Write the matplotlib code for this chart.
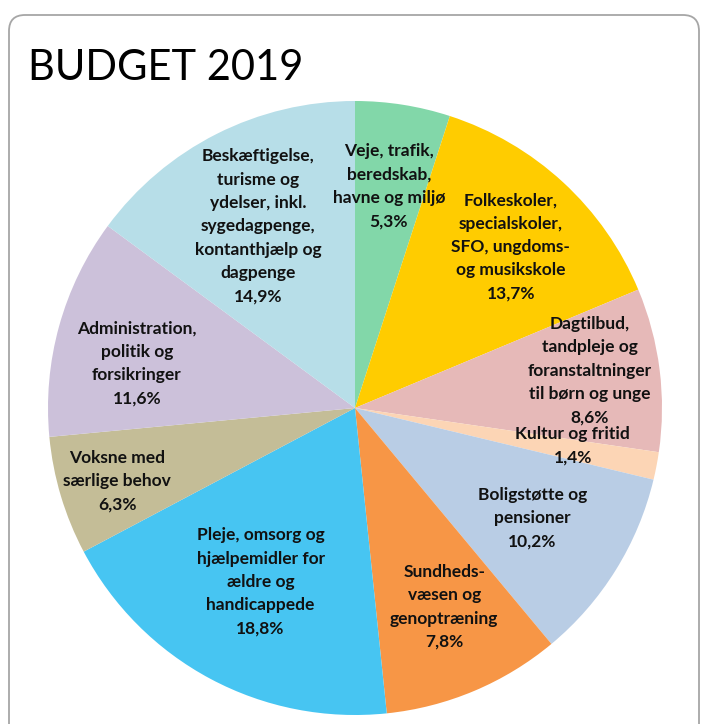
import numpy as np
import matplotlib
matplotlib.use("Agg")
import matplotlib.pyplot as plt
from matplotlib.patches import FancyBboxPatch

# data
categories = [
    "Veje, trafik,\nberedskab,\nhavne og miljø",
    "Folkeskoler,\nspecialskoler,\nSFO, ungdoms-\nog musikskole",
    "Dagtilbud,\ntandpleje og\nforanstaltninger\ntil børn og unge",
    "Kultur og fritid",
    "Boligstøtte og\npensioner",
    "Sundheds-\nvæsen og\ngenoptræning",
    "Pleje, omsorg og\nhjælpemidler for\nældre og\nhandicappede",
    "Voksne med\nsærlige behov",
    "Administration,\npolitik og\nforsikringer",
    "Beskæftigelse,\nturisme og\nydelser, inkl.\nsygedagpenge,\nkontanthjælp og\ndagpenge",
]
# slice sizes as drawn in the picture (percent of the circle)
slice_sizes = [5.0, 13.7, 8.6, 1.45, 10.2, 9.4, 18.9, 6.25, 11.6, 14.9]
# percentages as printed on the labels
pct_labels = ["5,3%", "13,7%", "8,6%", "1,4%", "10,2%", "7,8%",
              "18,8%", "6,3%", "11,6%", "14,9%"]

colors = ["#82D7A9", "#FFCC00", "#E6B9B8", "#FCD5B5", "#B9CDE5",
          "#F79646", "#47C5F2", "#C4BD97", "#CCC1DA", "#B7DEE8"]

# label placement (fraction of radius, angular nudge clockwise in degrees)
label_r = [0.73, 0.73, 0.775, 0.72, 0.68, 0.71, 0.645, 0.81, 0.725, 0.67]
label_nudge = [-0.3, 1.4, -1.8, -1.0, 0.0, -1.3, 0.4, -0.4, -4.0, -1.2]

W, H, DPI = 702, 724, 100
fig = plt.figure(figsize=(W / DPI, H / DPI), dpi=DPI)

# rounded chart border
border = FancyBboxPatch((0.09, -0.5), 6.90, 7.59,
                        boxstyle="round,pad=0,rounding_size=0.16",
                        transform=fig.dpi_scale_trans,
                        facecolor="none", edgecolor="#A6A6A6", linewidth=1.3)
fig.patches.append(border)

fig.text(28 / W, (H - 80) / H, "BUDGET 2019", fontsize=30,
         family=["Lato", "DejaVu Sans"], color="black", va="baseline", ha="left")

# pie centred at (355, 408) px from top-left, radius 307 px
cx, cy, R = 355, 408, 307
ax = fig.add_axes([(cx - R) / W, (H - cy - R) / H, 2 * R / W, 2 * R / H])
wedges, _ = ax.pie(slice_sizes, colors=colors, startangle=90, counterclock=False,
                   radius=1.0, wedgeprops=dict(linewidth=0))
ax.set_xlim(-1, 1)
ax.set_ylim(-1, 1)
ax.axis("off")

for w, cat, pct, r, nd in zip(wedges, categories, pct_labels, label_r, label_nudge):
    mid = 0.5 * (w.theta1 + w.theta2) - nd
    a = np.deg2rad(mid)
    ax.text(r * np.cos(a), r * np.sin(a), cat + "\n" + pct,
            ha="center", va="center", multialignment="center",
            fontsize=12.5, fontweight="bold", family=["Lato", "DejaVu Sans"],
            color="#111111", linespacing=1.57)

fig.savefig("out.png", dpi=DPI)
